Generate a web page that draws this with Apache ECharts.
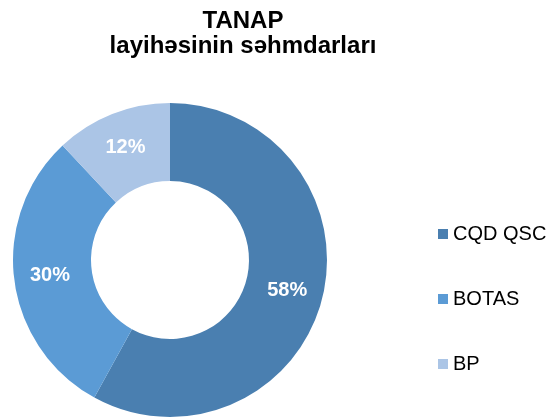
<!DOCTYPE html>
<html>
<head>
<meta charset="utf-8">
<script src="https://cdn.jsdelivr.net/npm/echarts@6/dist/echarts.min.js"></script>
<style>
  html, body { margin: 0; padding: 0; background: #fff; }
  #chart { width: 552px; height: 417px; }
</style>
</head>
<body>
<div id="chart"></div>
<script>
// shareholders of TANAP, percent
const names = ['CQD QSC', 'BOTAS', 'BP'];
const shares = [58, 30, 12];
const colors = ['#4a7fb0', '#5b9bd5', '#abc5e6'];

const font = 'Liberation Sans, Arial, sans-serif';
const chart = echarts.init(document.getElementById('chart'));

const option = {
  backgroundColor: '#fff',
  animation: false,
  title: {
    text: 'TANAP\nlayihəsinin səhmdarları',
    left: 238,
    top: 4,
    textAlign: 'center',
    textStyle: {
      fontFamily: font,
      fontSize: 24,
      fontWeight: 'bold',
      color: '#000',
      lineHeight: 25
    }
  },
  legend: {
    orient: 'vertical',
    left: 433,
    top: 219,
    itemWidth: 10,
    itemHeight: 10,
    itemGap: 45,
    icon: 'rect',
    data: names,
    textStyle: {
      fontFamily: font,
      fontSize: 20,
      lineHeight: 20,
      color: '#000'
    }
  },
  series: [
    {
      type: 'pie',
      center: [170, 260],
      radius: [79, 157],
      startAngle: 90,
      clockwise: true,
      color: colors,
      label: {
        show: true,
        position: 'inside',
        formatter: '{c}%',
        fontFamily: font,
        fontSize: 20,
        fontWeight: 'bold',
        color: '#fff'
      },
      labelLine: { show: false },
      emphasis: { disabled: true },
      data: names.map((n, i) => ({ name: n, value: shares[i] }))
    }
  ]
};

chart.setOption(option);
</script>
</body>
</html>
